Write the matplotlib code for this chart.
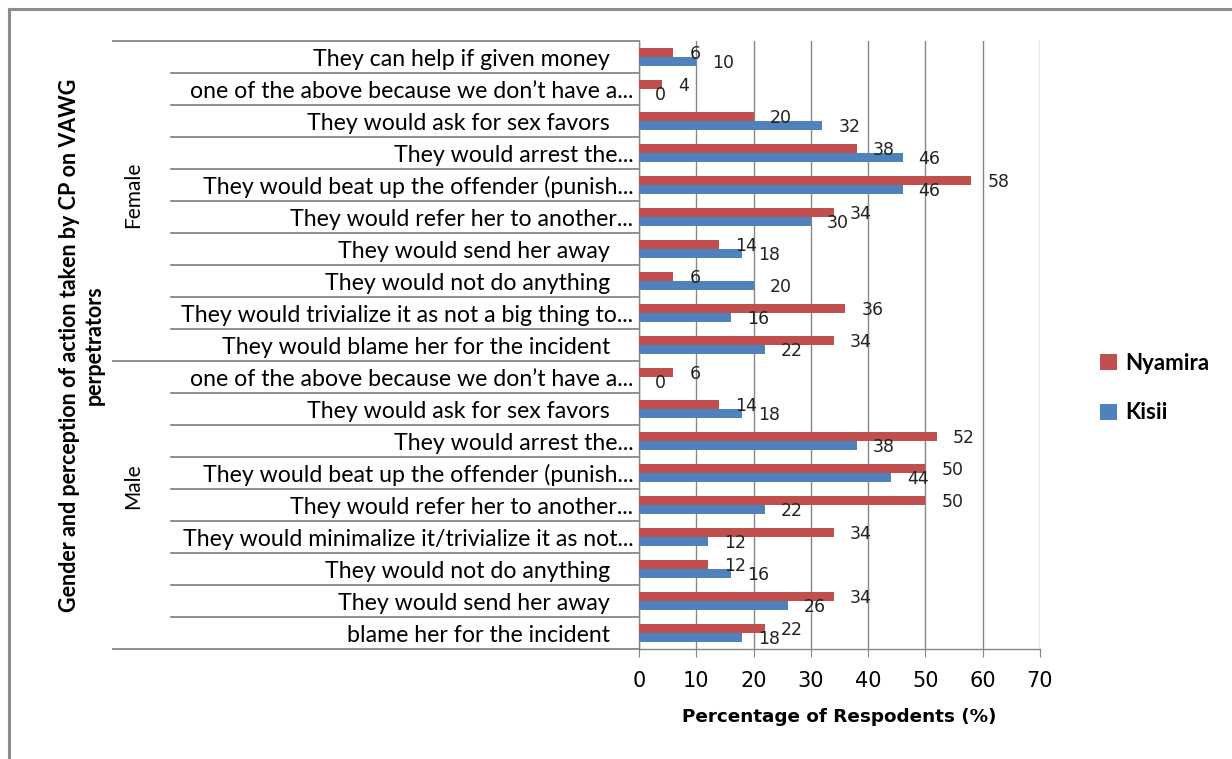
import matplotlib
matplotlib.use("Agg")
import matplotlib.pyplot as plt
from matplotlib.lines import Line2D
from matplotlib.transforms import blended_transform_factory
import numpy as np

# --- data (top to bottom) ---
labels = [
    "They can help if given money    ",
    "one of the above because we don’t have a...",
    "They would ask for sex favors    ",
    "They would arrest the...",
    "They would beat up the offender (punish...",
    "They would refer her to another...",
    "They would send her away    ",
    "They would not do anything    ",
    "They would trivialize it as not a big thing to...",
    "They would blame her for the incident    ",
    "one of the above because we don’t have a...",
    "They would ask for sex favors    ",
    "They would arrest the...",
    "They would beat up the offender (punish...",
    "They would refer her to another...",
    "They would minimalize it/trivialize it as not...",
    "They would not do anything    ",
    "They would send her away    ",
    "blame her for the incident    ",
]
nyamira = [6, 4, 20, 38, 58, 34, 14, 6, 36, 34, 6, 14, 52, 50, 50, 34, 12, 34, 22]
kisii = [10, 0, 32, 46, 46, 30, 18, 20, 16, 22, 0, 18, 38, 44, 22, 12, 16, 26, 18]
groups = ["Female", "Male"]
group_sizes = [10, 9]

RED = "#C0504D"
BLUE = "#4F81BD"
GRID = "#868686"

W, H = 1232, 759
fig = plt.figure(figsize=(W / 100, H / 100), dpi=100)
ax = fig.add_axes([639 / W, 1 - 649 / H, (1040 - 639) / W, (649 - 41) / H])

y = np.arange(len(labels))
bh = 0.28
ax.barh(y - bh / 2, nyamira, height=bh, color=RED, label="Nyamira", zorder=3)
ax.barh(y + bh / 2, kisii, height=bh, color=BLUE, label="Kisii", zorder=3)

for yi, v in zip(y, nyamira):
    ax.text(v + 2.8, yi - bh / 2 + 0.04, str(v), ha="left", va="center",
            fontsize=12.5, family="DejaVu Sans", color="#222222", zorder=4)
for yi, v in zip(y, kisii):
    ax.text(v + 2.8, yi + bh / 2 + 0.04, str(v), ha="left", va="center",
            fontsize=12.5, family="DejaVu Sans", color="#222222", zorder=4)

ax.set_xlim(0, 70)
ax.set_ylim(len(labels) - 0.5, -0.5)
ax.set_xticks(range(0, 71, 10))
ax.tick_params(axis="x", length=6, color=GRID, pad=10, labelsize=15)
for t in ax.get_xticklabels():
    t.set_family("DejaVu Sans")
ax.grid(axis="x", color=GRID, lw=1, zorder=0)
ax.set_axisbelow(True)

ax.set_yticks(y)
ax.set_yticklabels(labels, family="Lato", fontsize=16.7)
ax.tick_params(axis="y", length=0, pad=4)

for s in ["top", "right"]:
    ax.spines[s].set_visible(False)
for s in ["left", "bottom"]:
    ax.spines[s].set_color(GRID)
    ax.spines[s].set_linewidth(1)

ax.set_xlabel("Percentage of Respodents (%)", family="DejaVu Sans",
              fontweight="bold", fontsize=13.2, labelpad=12)

# table lines between categories and between groups
tr = blended_transform_factory(fig.transFigure, ax.transData)
x_axis = 639 / W
bounds = np.cumsum([0] + group_sizes) - 0.5
for b in np.arange(-0.5, len(labels), 1.0):
    x0 = 113 / W if b in bounds else 171 / W
    ax.add_line(Line2D([x0, x_axis], [b, b], transform=tr, color=GRID,
                       lw=1.3, clip_on=False))

# group names
group_label_y = [195, 486]
for g, gy in zip(groups, group_label_y):
    fig.text(133 / W, 1 - gy / H, g, rotation=90, ha="center", va="center",
             family="Lato", fontsize=15)

fig.text(82 / W, 1 - 345 / H,
         "Gender and perception of action taken by CP on VAWG\nperpetrators",
         rotation=90, ha="center", va="center", multialignment="center",
         family="Lato", fontweight="bold", fontsize=15.5, linespacing=1.25)

fig.legend(loc="center left", bbox_to_anchor=(1080 / W, 1 - 388 / H),
           frameon=False, handlelength=0.75, handleheight=0.75,
           handletextpad=0.4, labelspacing=1.3,
           prop={"family": "Lato", "weight": "bold", "size": 16})

# outer frame
fig.add_artist(Line2D([8.5 / W, 8.5 / W], [0, 1 - 9 / H], color="#8C8C8C", lw=2.2))
fig.add_artist(Line2D([8.5 / W, 1], [1 - 9 / H, 1 - 9 / H], color="#8C8C8C", lw=2.2))

fig.savefig("out.png", dpi=100)
